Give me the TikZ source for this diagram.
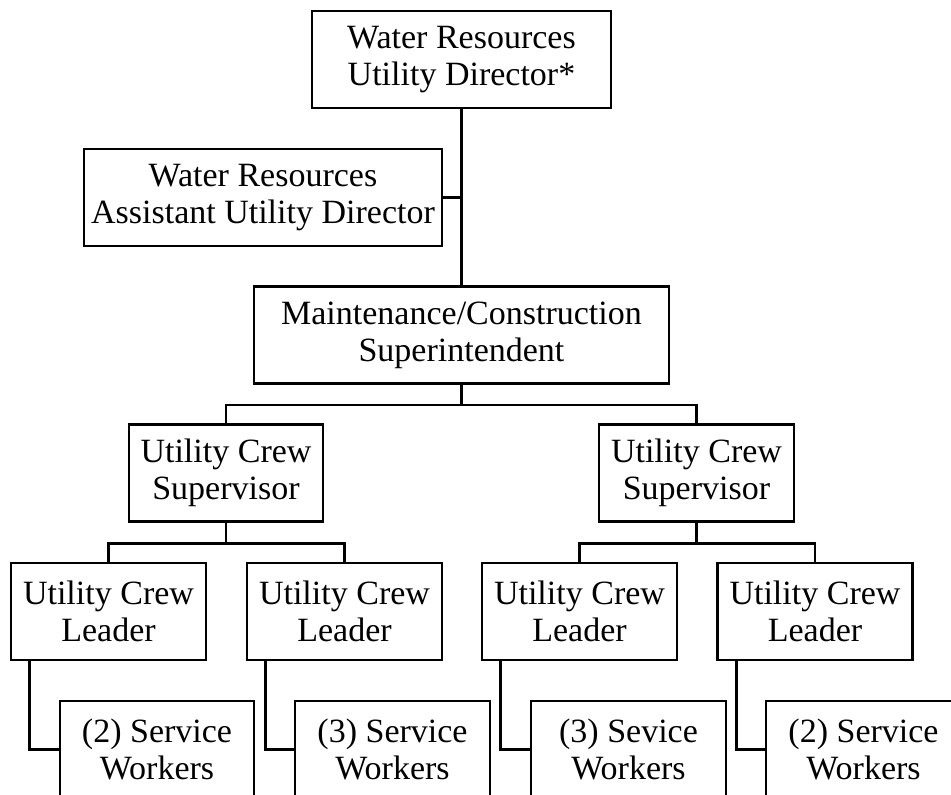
\documentclass[tikz,border=0pt]{standalone}
\usepackage{fontspec}
\setmainfont{Liberation Serif}
\usepackage{tikz}

\begin{document}
\begin{tikzpicture}[
    x=1pt, y=-1pt,
    box/.style={draw, line width=2.8pt, inner sep=0pt, align=center,
      minimum height=97pt, font=\fontsize{34}{37}\selectfont},
    wire/.style={line width=2.8pt},
  ]
  \useasboundingbox (0,0) rectangle (951,795);
  \node[box, minimum width=299pt] (dir) at (461.5,59.5) {Water Resources\\Utility Director*};
  \node[box, minimum width=358pt] (asst) at (263,197.5) {Water Resources\\Assistant Utility Director};
  \node[box, minimum width=415pt] (supt) at (461.5,335) {Maintenance/Construction\\Superintendent};
  \node[box, minimum width=194pt] (supl) at (226,473) {Utility Crew\\Supervisor};
  \node[box, minimum width=195pt] (supr) at (696.5,473) {Utility Crew\\Supervisor};
  \node[box, minimum width=195pt] (la) at (108.5,611.5) {Utility Crew\\Leader};
  \node[box, minimum width=195pt] (lb) at (344.5,611.5) {Utility Crew\\Leader};
  \node[box, minimum width=195pt] (lc) at (579.5,611.5) {Utility Crew\\Leader};
  \node[box, minimum width=195pt] (ld) at (815,611.5) {Utility Crew\\Leader};
  \node[box, minimum width=194pt] (wa) at (157,749.5) {(2) Service\\Workers};
  \node[box, minimum width=195pt] (wb) at (392.5,749.5) {(3) Service\\Workers};
  \node[box, minimum width=195pt] (wc) at (628.5,749.5) {(3) Sevice\\Workers};
  \node[box, minimum width=195pt] (wd) at (863.5,749.5) {(2) Service\\Workers};
  \draw[wire] (dir.south) -- (supt.north);
  \draw[wire] (asst.east) -- (asst.east -| dir.south);
  \draw[wire] (supt.south) -- ++(0,20) -| (supl.north);
  \draw[wire] (supt.south) -- ++(0,20) -| (supr.north);
  \draw[wire] (supl.south) -- ++(0,20.5) -| (la.north);
  \draw[wire] (supl.south) -- ++(0,20.5) -| (lb.north);
  \draw[wire] (supr.south) -- ++(0,20.5) -| (lc.north);
  \draw[wire] (supr.south) -- ++(0,20.5) -| (ld.north);
  \foreach \i in {a,b,c,d}
    \draw[wire] ([xshift=20pt]l\i.south west) |- (w\i.west);
\end{tikzpicture}
\end{document}
